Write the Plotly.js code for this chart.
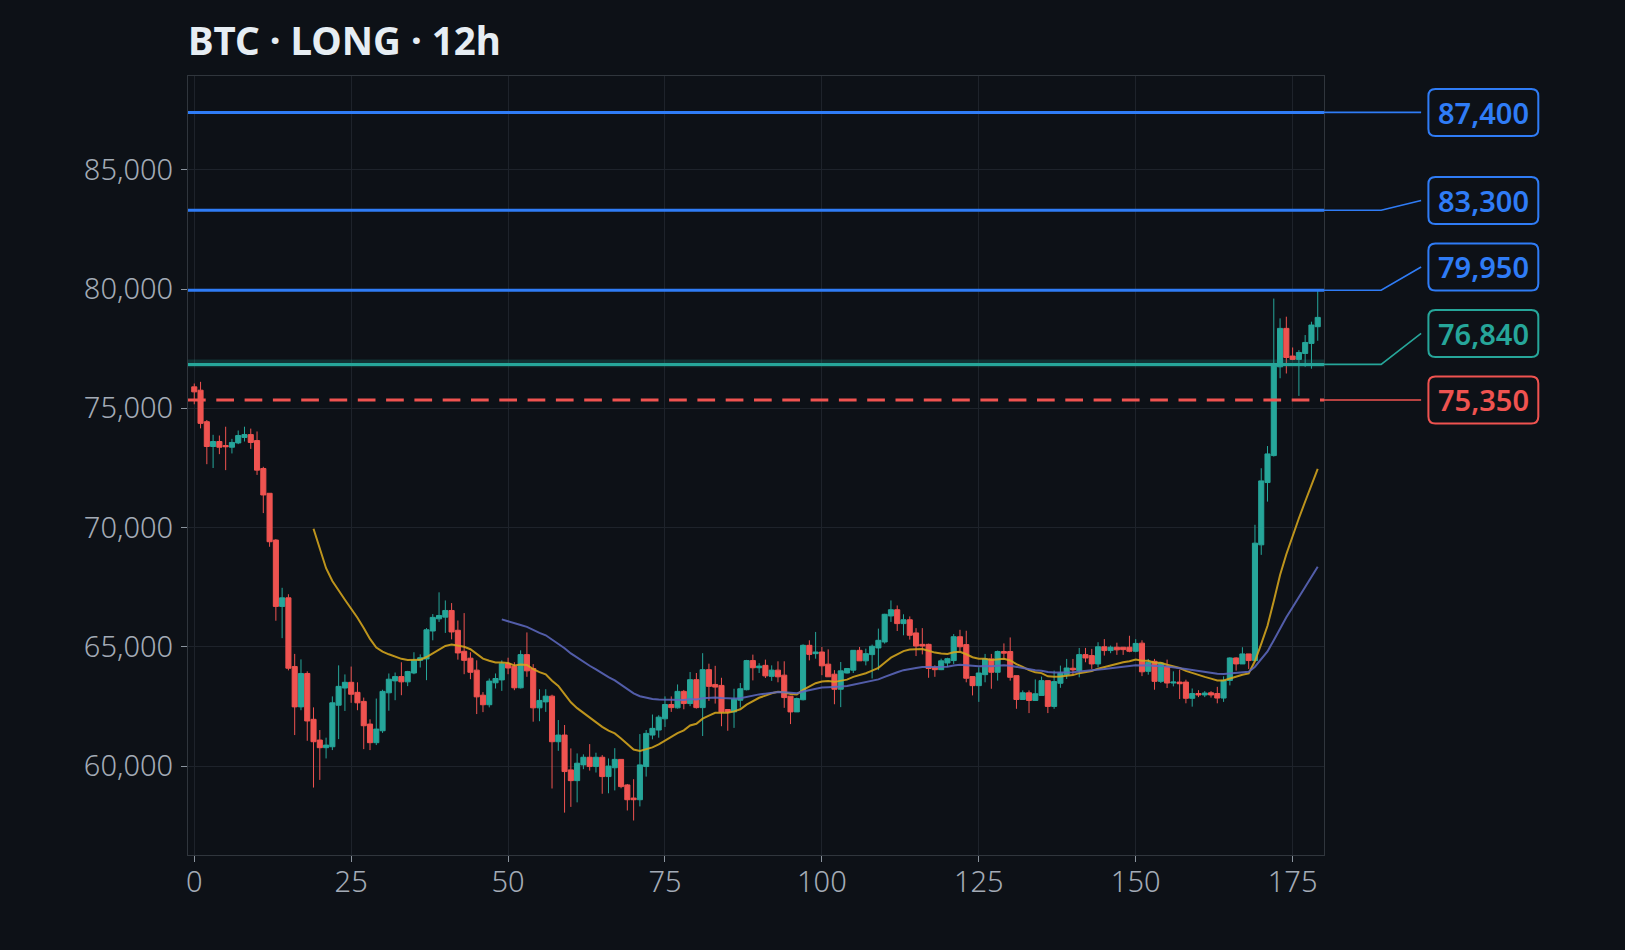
<!DOCTYPE html>
<html>
<head>
<meta charset="utf-8">
<script src="https://cdn.plot.ly/plotly-3.0.1.min.js"></script>
<style>html,body{margin:0;padding:0;background:#0d1117;}#chart{width:1625px;height:950px;}</style>
</head>
<body>
<div id="chart"></div>
<script>
// ---- DATA ----
const openP = [75900,75760,74440,73400,73610,73440,73370,73550,73780,73900,73650,72480,71440,69480,66700,67060,64180,62490,63890,61970,
61100,60780,60820,62560,63280,63520,63100,62720,61770,60990,61490,63080,63580,63760,63540,63910,64440,64500,65670,66180,
66250,66530,65700,64820,64530,64030,62980,62580,63500,63620,64300,64190,63290,64680,64100,62450,62700,62940,61030,61310,
59850,59400,60060,60380,59990,60380,59570,59940,60290,59220,58670,58600,59990,61310,61520,61990,62590,62450,63140,62630,
63630,62460,64050,63430,63390,62380,62280,62770,63210,64430,64130,64230,63770,64030,63820,62940,62280,62790,65070,64720,
64790,64280,63860,63230,63910,64030,64860,64420,64680,64960,65210,66300,66560,65980,66140,65590,65110,65110,64140,64050,
64330,64430,65430,65100,63760,63380,63840,64500,63940,64810,64810,63800,62800,63080,62760,62970,63590,62510,63480,63840,
64110,64010,64680,64640,64290,65010,64850,64990,64990,64990,64820,65160,63980,64400,63560,64190,63490,63530,63530,62850,
63050,62990,63080,63050,62860,63600,64540,64290,64710,64430,69280,71890,73020,76740,78350,77190,77050,77300,77720,78420];
const highP = [76040,76110,74510,73890,73860,74230,73720,74070,74230,74150,74030,72550,71440,69520,67480,67210,64710,64480,63980,62470,
61520,61200,62930,64230,63850,64180,63520,62880,61970,62840,63210,63890,63930,64360,64000,64780,64690,65790,66380,67290,
66950,66840,66110,66420,64780,64440,63110,63680,63890,64440,64550,64360,64860,65610,64280,63230,63230,63000,61940,61730,
60750,60540,60500,60930,60570,60470,60330,60760,60290,59260,59460,61350,61520,62170,62140,62930,62930,63430,63200,63950,
63910,64740,64300,64210,63710,62380,63250,63490,64460,64680,64320,64470,64230,64400,64400,62940,62880,65110,65280,65630,
65000,64900,64030,64370,64120,64860,65000,64930,65100,65770,66390,66950,66740,66370,66280,65790,65790,65140,64230,64510,
64550,65540,65720,65680,63760,64150,64710,64710,64850,65150,65400,63800,63180,63180,63640,63760,63600,64010,64220,64500,
64500,64960,64960,64920,65200,65330,65060,65180,64990,65470,65330,65280,64500,64500,64330,64470,63980,64050,63630,63260,
63190,63150,63150,63330,63770,64570,64570,64990,64710,70120,72490,73420,79600,78770,78840,77550,77440,78070,78630,79920];
const lowP = [75170,74160,72660,72500,73080,72410,73110,73500,73610,73300,72210,70610,69200,66100,65370,64020,61310,62350,61070,59110,
59430,60330,60680,61140,62320,62660,62350,60720,60680,60890,61400,62330,62770,62980,63360,63860,64140,63610,65280,66050,
65590,65320,64470,63860,63650,62190,62270,62470,63260,63160,63860,63190,63260,63750,61870,61890,62280,59070,60650,58060,
58300,58490,59880,59820,59740,58850,58870,58990,59080,58150,57730,58320,59570,61130,61200,61650,62280,62420,62390,62520,
62420,61270,62740,62630,61680,61490,61610,62460,63180,63600,63910,63700,63580,63520,62450,61770,62280,62760,64440,64510,
63820,63750,62600,62480,63890,63910,64420,64230,63680,64030,65140,66050,65670,65490,65310,64620,64690,63710,63750,64030,
64160,64290,64820,63520,62970,62700,63520,63250,63590,64500,63590,62410,62790,62230,62760,62970,62230,62410,63290,63660,
63840,63730,64360,64080,64150,64640,64740,64670,64670,64780,64780,63780,63840,63210,63490,63280,63350,62820,62640,62500,
62900,62900,62880,62640,62700,63390,64010,64290,64080,64400,68860,71090,72980,76260,76460,77020,75520,76740,76660,77830];
const closeP = [75690,74370,73400,73610,73370,73390,73570,73860,73900,73570,72410,71370,69410,66700,67060,64110,62490,63890,61900,61030,
60780,60890,62660,63350,63520,63020,62660,61700,60990,61560,63140,63650,63760,63540,63970,64440,64550,65720,66240,66320,
66530,65630,64750,64440,63940,62910,62580,63570,63680,64300,64120,63290,64680,64000,62450,62760,62940,61030,61310,59780,
59400,60130,60380,59990,60380,59570,60010,60290,59150,58600,58600,60060,61380,61590,62060,62590,62460,63140,62630,63630,
62460,64050,63350,63320,62280,62280,62810,63250,64430,64130,64200,63790,64030,63750,62880,62280,62840,65070,64690,64790,
64210,63750,63230,64000,64100,64860,64420,64720,65030,65280,66370,66560,65980,66140,65490,65040,65040,64100,64050,64420,
64510,65430,65010,63690,63380,63910,64500,63940,64810,64740,63730,62800,63080,62760,63040,63590,62510,63550,63900,64120,
64040,64680,64540,64290,65010,64850,64990,64880,64890,64820,65150,63960,64360,63560,64330,63490,63530,63460,62850,63050,
62990,63070,62990,62860,63600,64540,64290,64710,64430,69350,71960,73090,76810,78350,77130,77050,77340,77760,78490,78810];

const levelPrices = [87400, 83300, 79950, 76840, 75350];
const levelKinds  = ['target', 'target', 'target', 'entry', 'stop'];
const entryZone   = [76720, 77050];
const xTicks = [0, 25, 50, 75, 100, 125, 150, 175];
const titleText = 'BTC · LONG · 12h';

// ---- STYLE ----
const BG = '#0d1117';
const UP = '#26a69a', DOWN = '#ef5350';
const kindColor = {target: '#2f7cf6', entry: '#26a69a', stop: '#ef5350'};
const FONT = 'Noto Sans, Open Sans, DejaVu Sans, sans-serif';

const M = {l: 187.5, r: 300.5, t: 76, b: 95};
const W = 1625, H = 950;
const plotW = W - M.l - M.r, plotH = H - M.t - M.b;
const yRange = [56284, 88925];

function ema(vals, n) {
  const out = []; const k = 2 / (n + 1); let e = null;
  for (let i = 0; i < vals.length; i++) {
    if (i < n - 1) out.push(null);
    else if (i === n - 1) { let s = 0; for (let j = 0; j < n; j++) s += vals[j]; e = s / n; out.push(e); }
    else { e = vals[i] * k + e * (1 - k); out.push(e); }
  }
  return out;
}

const xIdx = closeP.map((_, i) => i);
const ma20 = ema(closeP, 20);
const ma50 = ema(closeP, 50);

const traces = [
  {type: 'candlestick', x: xIdx, open: openP, high: highP, low: lowP, close: closeP,
   increasing: {line: {color: UP, width: 1}, fillcolor: UP},
   decreasing: {line: {color: DOWN, width: 1}, fillcolor: DOWN},
   whiskerwidth: 0, hoverinfo: 'skip'},
  {type: 'scatter', mode: 'lines', x: xIdx, y: ma20, line: {color: 'rgba(214,166,30,0.88)', width: 2}, hoverinfo: 'skip'},
  {type: 'scatter', mode: 'lines', x: xIdx, y: ma50, line: {color: 'rgba(92,104,190,0.88)', width: 2}, hoverinfo: 'skip'}
];

// pixel helpers
const yPix = v => M.t + (yRange[1] - v) / (yRange[1] - yRange[0]) * plotH;
const pX = px => (px - M.l) / plotW;
const pY = py => 1 - (py - M.t) / plotH;

const shapes = [];
const annotations = [];

// entry zone band
shapes.push({type: 'rect', xref: 'paper', yref: 'y', x0: 0, x1: 1, y0: entryZone[0], y1: entryZone[1],
  fillcolor: 'rgba(38,166,154,0.22)', line: {width: 0}});

// level lines in plot
levelPrices.forEach((p, i) => {
  const k = levelKinds[i];
  shapes.push({type: 'line', xref: 'paper', yref: 'y', x0: 0, x1: 1, y0: p, y1: p,
    line: {color: kindColor[k], width: 3, dash: k === 'stop' ? '17.7px,10.6px' : 'solid'}});
});

// label placement (bottom-up, min gap)
const GAP = 66.5;
const natural = levelPrices.map(yPix);
const order = natural.map((v, i) => i).sort((a, b) => natural[b] - natural[a]);
const labelY = new Array(levelPrices.length);
let prev = null;
order.forEach(i => {
  let y = natural[i];
  if (prev !== null && y > prev - GAP) y = prev - GAP;
  labelY[i] = y; prev = y;
});

const xStart = 1323.5, xBend = 1381.7, xEnd = 1421.7, boxL = 1429, boxR = 1539, boxH = 47, rad = 7;
levelPrices.forEach((p, i) => {
  const col = kindColor[levelKinds[i]];
  const yn = natural[i], yl = labelY[i];
  shapes.push({type: 'path', xref: 'paper', yref: 'paper',
    path: `M ${pX(xStart)},${pY(yn)} L ${pX(xBend)},${pY(yn)} L ${pX(xEnd)},${pY(yl)}`,
    line: {color: col, width: 1.6}});
  const x0 = boxL, x1 = boxR, y0 = yl - boxH / 2, y1 = yl + boxH / 2;
  const P = (x, y) => `${pX(x)},${pY(y)}`;
  const path = `M ${P(x0 + rad, y0)} L ${P(x1 - rad, y0)} Q ${P(x1, y0)} ${P(x1, y0 + rad)} L ${P(x1, y1 - rad)} Q ${P(x1, y1)} ${P(x1 - rad, y1)} L ${P(x0 + rad, y1)} Q ${P(x0, y1)} ${P(x0, y1 - rad)} L ${P(x0, y0 + rad)} Q ${P(x0, y0)} ${P(x0 + rad, y0)} Z`;
  shapes.push({type: 'path', xref: 'paper', yref: 'paper', path: path,
    fillcolor: BG, line: {color: col, width: 2}});
  annotations.push({xref: 'paper', yref: 'paper', x: pX((boxL + boxR) / 2), y: pY(yl),
    xanchor: 'center', yanchor: 'middle', showarrow: false,
    text: p.toLocaleString('en-US'),
    font: {family: FONT, size: 29, color: col, weight: 600}});
});

const axisCommon = {
  showgrid: true, gridcolor: '#1e232b', gridwidth: 1, zeroline: false,
  showline: true, mirror: true, linecolor: '#30363d', linewidth: 1,
  ticks: 'outside', ticklen: 6, tickcolor: '#8b949e', tickwidth: 1,
  tickfont: {family: FONT, size: 29, color: '#a3abb6', weight: 300}
};

const layout = {
  width: W, height: H,
  paper_bgcolor: BG, plot_bgcolor: BG,
  margin: {l: M.l, r: M.r, t: M.t, b: M.b, pad: 0},
  showlegend: false,
  boxgap: 0.1, boxgroupgap: 0.1,
  title: {text: titleText, x: 0, xref: 'paper', xanchor: 'left', y: 1 - 42 / H, yref: 'container', yanchor: 'middle',
    font: {family: FONT, size: 38.5, color: '#e6edf3', weight: 'bold'}},
  xaxis: Object.assign({}, axisCommon, {range: [-1, 180], tickvals: xTicks, rangeslider: {visible: false}, ticklabelstandoff: -5}),
  yaxis: Object.assign({}, axisCommon, {range: yRange, tick0: 0, dtick: 5000, tickformat: ',d', ticklabelstandoff: 2}),
  shapes: shapes,
  annotations: annotations
};

Plotly.newPlot('chart', traces, layout, {displayModeBar: false, staticPlot: true});
</script>
</body>
</html>
